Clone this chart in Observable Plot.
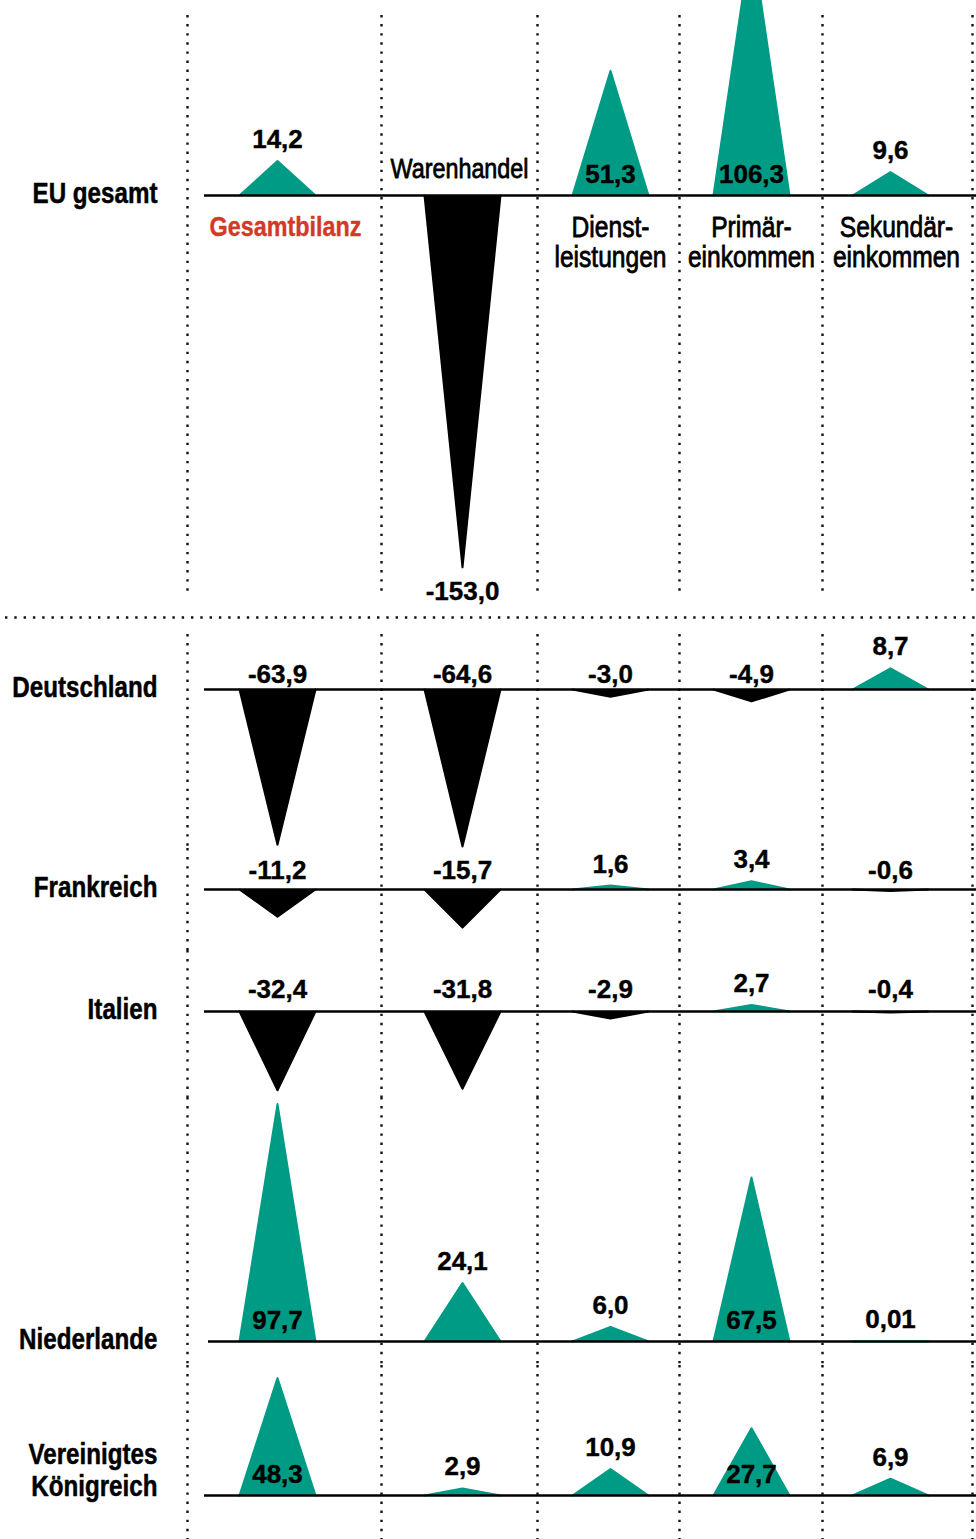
<!DOCTYPE html>
<html><head><meta charset="utf-8">
<script src="https://cdn.jsdelivr.net/npm/d3@7"></script>
<script src="https://cdn.jsdelivr.net/npm/@observablehq/plot@0.6"></script>
<style>
body{margin:0;background:#fff;}
#chart{width:976px;}
#chart svg{display:block;}
</style></head><body><div id="chart"></div>
<script>
// ---- data ----
const components = ["Gesamtbilanz","Warenhandel","Dienstleistungen","Primäreinkommen","Sekundäreinkommen"];
const componentLabels = ["Gesamtbilanz","Warenhandel","Dienst-\nleistungen","Primär-\neinkommen","Sekundär-\neinkommen"];
const regions = ["EU gesamt","Deutschland","Frankreich","Italien","Niederlande","Vereinigtes\nKönigreich"];
const euValues = [14.2, -153.0, 51.3, 106.3, 9.6];
const deValues = [-63.9, -64.6, -3.0, -4.9, 8.7];
const frValues = [-11.2, -15.7, 1.6, 3.4, -0.6];
const itValues = [-32.4, -31.8, -2.9, 2.7, -0.4];
const nlValues = [97.7, 24.1, 6.0, 67.5, 0.01];
const ukValues = [48.3, 2.9, 10.9, 27.7, 6.9];
const rowValues = [euValues, deValues, frValues, itValues, nlValues, ukValues];

// ---- layout / style ----
const K = 2.43;                       // pixels per Mrd. Euro (length scale)
const GREEN = "#009b84", RED = "#d23a26";
const colCenter = [277, 462, 610, 751, 890];          // column centres (px)
const colEdge = [187, 381, 537, 679, 822, 972];        // dotted column separators (px)
const headShift = [8, -3, 0, 0, 6];                    // column heading offsets (px)
const rowLayout = [
  {top: 0,    base: 195,  bottom: 625,  rulesTop: 15, rulesBottom: 28, sep: 617, negBelow: true, lineStart: 204},
  {top: 625,  base: 689,  bottom: 848,  rulesTop: 9,  negDy: -7,  lineStart: 204},
  {top: 848,  base: 889,  bottom: 950,  negDy: -11, lineStart: 204},
  {top: 950,  base: 1011, bottom: 1097, negDy: -14, lineStart: 204},
  {top: 1097, base: 1341, bottom: 1365, negDy: -10, lineStart: 208},
  {top: 1365, base: 1495, bottom: 1539, negDy: -10, lineStart: 204, labelDy: 0}
];
const NARROW = "Liberation Sans, Arial, sans-serif";   // condensed afterwards (Arial Narrow look)
const VALUEF = "Liberation Sans";
const de = d3.formatLocale({decimal: ",", thousands: ".", grouping: [3], currency: ["", " €"], minus: "-"});
const fmt = v => Math.abs(v) < 0.1 ? de.format(".2f")(v) : de.format(".1f")(v);

const valueFont = {fontFamily: VALUEF, fontWeight: "bold", fontSize: 26, fill: "black",
  stroke: "black", strokeWidth: 0.4, lineAnchor: "bottom"};

function rowPlot(i) {
  const cfg = rowLayout[i];
  const H = cfg.bottom - cfg.top;
  const hi = (cfg.base - cfg.top) / K, lo = -(cfg.bottom - cfg.base) / K;
  const data = rowValues[i].map((v, j) => ({col: j, comp: components[j], v, label: fmt(v)}));
  const pos = data.filter(d => d.v >= 0), neg = data.filter(d => d.v < 0);
  const cx = d => colCenter[d.col];
  const marks = [
    Plot.ruleX(colEdge, {x: d => d, stroke: "#111", strokeWidth: 2.4, strokeDasharray: "2.4,6.7",
      insetTop: cfg.rulesTop ?? 0, insetBottom: cfg.rulesBottom ?? 0}),
    Plot.spike(pos, {x: cx, y: 0, length: d => Math.abs(d.v), r: 38, anchor: "start",
      fill: GREEN, stroke: GREEN, strokeWidth: 2, fillOpacity: 1}),
    Plot.spike(neg, {x: cx, y: 0, length: d => Math.abs(d.v), rotate: 180, r: 38, anchor: "start",
      fill: "black", stroke: "black", strokeWidth: 2, fillOpacity: 1}),
    Plot.ruleY([0], {x1: cfg.lineStart, x2: 976, stroke: "black", strokeWidth: 2.7}),
    // row label
    Plot.text([regions[i]], {x: colEdge[0] - 30, y: 0, text: d => d, dy: cfg.labelDy ?? 7,
      textAnchor: "end", lineAnchor: "bottom", fontFamily: NARROW, fontWeight: "bold",
      fontSize: 29.5, lineHeight: 1.08, fill: "black", stroke: "black", strokeWidth: 0.5}),
    // value labels: inside tall positive triangles
    Plot.text(pos.filter(d => d.v >= 27), {x: cx, y: 0, text: "label", dy: -13, ...valueFont}),
    // above apex of small positive triangles
    Plot.text(pos.filter(d => d.v < 27), {x: cx, y: "v", text: "label", dy: -13, ...valueFont}),
    // negative values
    cfg.negBelow
      ? Plot.text(neg, {x: cx, y: "v", text: "label", dy: 33, ...valueFont})
      : Plot.text(neg, {x: cx, y: 0, text: "label", dy: cfg.negDy, ...valueFont})
  ];
  if (cfg.sep) {
    marks.push(Plot.ruleY([-(cfg.sep - cfg.base) / K], {x1: 5, x2: 976,
      stroke: "#111", strokeWidth: 2.4, strokeDasharray: "2.4,6.9"}));
  }
  if (i === 0) {
    marks.push(
      Plot.text([componentLabels[0]], {x: colCenter[0] + headShift[0], y: 0, text: d => d, dy: 40, lineAnchor: "bottom",
        fontFamily: NARROW, fontWeight: "bold", fontSize: 28.5, fill: RED, stroke: RED, strokeWidth: 0.4}),
      Plot.text([componentLabels[1]], {x: colCenter[1] + headShift[1], y: 0, text: d => d, dy: -18, lineAnchor: "bottom",
        fontFamily: NARROW, fontSize: 28.5, fill: "black", stroke: "black", strokeWidth: 0.8}),
      Plot.text(componentLabels.slice(2).map((t, k) => ({t, col: k + 2})),
        {x: d => colCenter[d.col] + headShift[d.col], y: 0, text: "t", dy: 71,
        lineAnchor: "bottom", lineHeight: 1.0, fontFamily: NARROW, fontSize: 30,
        fill: "black", stroke: "black", strokeWidth: 0.8})
    );
  }
  const svg = Plot.plot({
    width: 976, height: H,
    marginTop: 0, marginBottom: 0, marginLeft: 0, marginRight: 0,
    style: {overflow: "visible", background: "transparent"},
    x: {type: "identity", axis: null},
    y: {domain: [lo, hi], range: [H, 0], axis: null},
    length: {domain: [0, 1], range: [0, K]},
    marks
  });
  // condensed look (Arial Narrow is a horizontally compressed Arial)
  d3.select(svg).selectAll("g").filter(function() { return this.getAttribute("font-family") === NARROW; })
    .selectAll("text").each(function() {
      const t = this.getAttribute("transform") || "";
      this.setAttribute("transform", t + " scale(0.82,1)");
    });
  return svg;
}

const chart = document.getElementById("chart");
for (let i = 0; i < regions.length; i++) chart.appendChild(rowPlot(i));
</script>
</body></html>
